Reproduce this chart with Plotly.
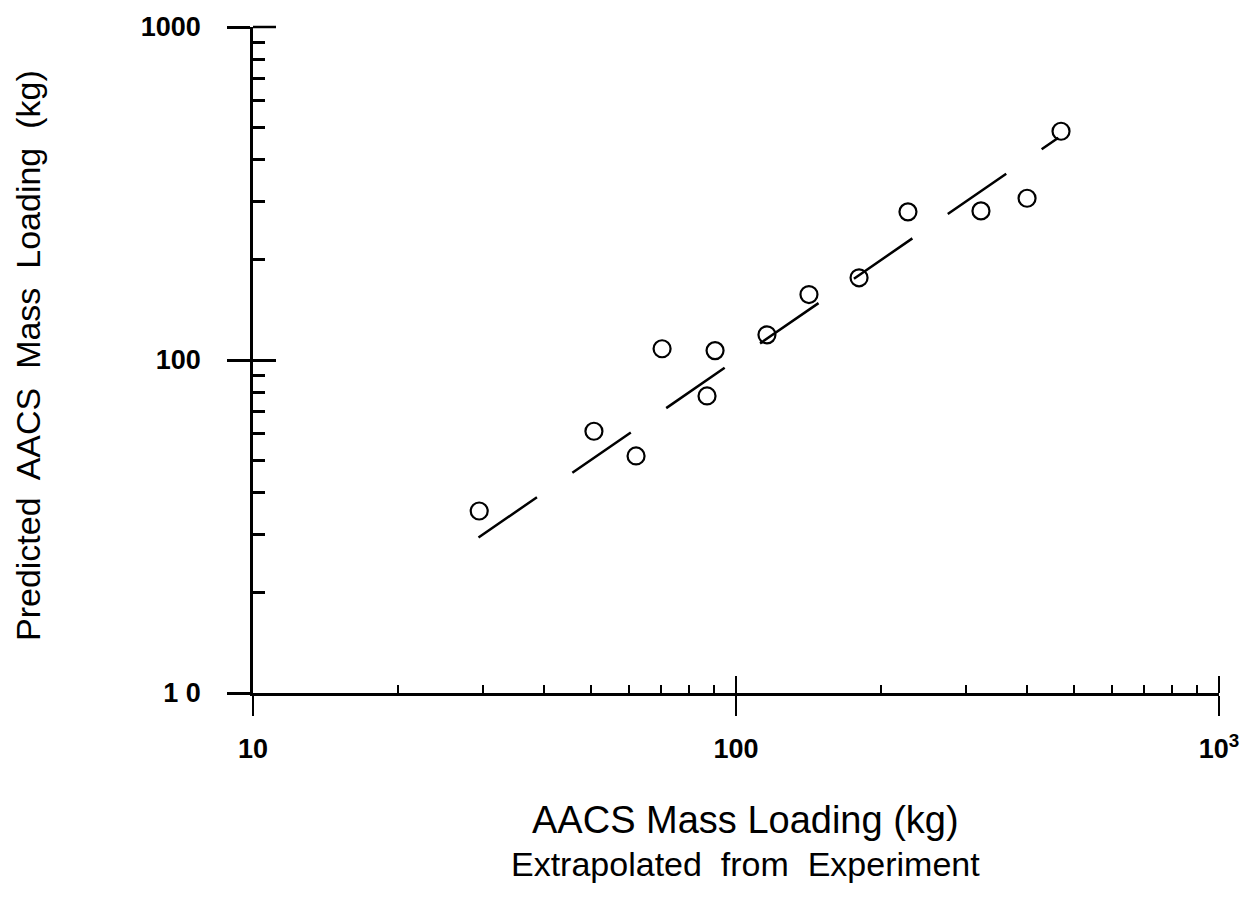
import plotly.graph_objects as go

# Data (log-log)
experiment_kg = [29.4, 50.8, 62.1, 70.3, 87.1, 90.5, 115.9, 141.6, 179.8, 227, 321.5, 400.5, 470.9]
predicted_kg = [35.2, 61.1, 51.5, 108.1, 78.0, 106.7, 119, 157.2, 176.5, 278.5, 280.4, 306, 486.4]
line_x = [29.3, 465]
line_y = [29.3, 465]

x_major = [10, 100, 1000]
x_major_text = ["10", "100", "10<sup>3</sup>"]
y_major = [10, 100, 1000]
y_major_text = ["1 0", "100", "1000"]
x_minor = [20, 30, 40, 50, 60, 70, 80, 90, 200, 300, 400, 500, 600, 700, 800, 900]
y_minor = [20, 30, 40, 50, 60, 70, 80, 90, 200, 300, 400, 500, 600, 700, 800, 900]

FONT = "Liberation Sans, Arial, Helvetica, sans-serif"

fig = go.Figure()
fig.add_trace(go.Scatter(x=line_x, y=line_y, mode="lines",
                         line=dict(color="black", width=2.5, dash="71px,43px"),
                         hoverinfo="skip", showlegend=False))
fig.add_trace(go.Scatter(x=experiment_kg, y=predicted_kg, mode="markers",
                         marker=dict(symbol="circle-open", size=17, color="black",
                                     line=dict(width=2.2, color="black")),
                         showlegend=False))
# invisible trace to activate overlay axes (inside halves of major ticks)
fig.add_trace(go.Scatter(x=[], y=[], xaxis="x2", yaxis="y2", showlegend=False))

fig.update_layout(
    width=1252, height=906,
    margin=dict(l=253, r=33, t=16, b=213),
    paper_bgcolor="white", plot_bgcolor="white",
    font=dict(family=FONT, color="black"),
    xaxis=dict(type="log", range=[1, 3], showgrid=False, zeroline=False,
               showline=True, linecolor="black", linewidth=2.5,
               tickmode="array", tickvals=x_major, ticktext=x_major_text,
               ticks="outside", ticklen=20, tickwidth=2, tickcolor="black",
               ticklabelstandoff=10,
               tickfont=dict(size=27, family=FONT, color="black", weight="bold"),
               minor=dict(tickmode="array", tickvals=x_minor, ticks="inside",
                          ticklen=8, tickwidth=2, tickcolor="black", showgrid=False)),
    yaxis=dict(type="log", range=[1, 3], showgrid=False, zeroline=False,
               showline=True, linecolor="black", linewidth=2.5,
               tickmode="array", tickvals=y_major, ticktext=y_major_text,
               ticks="outside", ticklen=23, tickwidth=2.5, tickcolor="black",
               ticklabelstandoff=21,
               tickfont=dict(size=27, family=FONT, color="black", weight="bold"),
               minor=dict(tickmode="array", tickvals=y_minor, ticks="inside",
                          ticklen=12, tickwidth=2.5, tickcolor="black", showgrid=False)),
    xaxis2=dict(type="log", range=[1, 3], overlaying="x", anchor="y2", side="bottom",
                showgrid=False, zeroline=False, showline=False,
                tickmode="array", tickvals=x_major, ticks="inside", ticklen=17,
                tickwidth=2, tickcolor="black", showticklabels=False),
    yaxis2=dict(type="log", range=[1, 3], overlaying="y", anchor="x2", side="left",
                showgrid=False, zeroline=False, showline=False,
                tickmode="array", tickvals=y_major, ticks="inside", ticklen=23,
                tickwidth=2.5, tickcolor="black", showticklabels=False),
    shapes=[
        # inside halves of the end major ticks (x = 10^3 and y = 1000)
        dict(type="line", xref="paper", yref="paper", x0=1, x1=1,
             ysizemode="pixel", yanchor=0, y0=0, y1=17,
             line=dict(color="black", width=2)),
        dict(type="line", xref="paper", yref="paper", y0=1, y1=1,
             xsizemode="pixel", xanchor=0, x0=0, x1=23,
             line=dict(color="black", width=2.5)),
    ],
    annotations=[
        dict(text="Predicted  AACS  Mass  Loading  (kg)", textangle=-90,
             xref="paper", yref="paper", x=0, y=0.5, xanchor="center", yanchor="middle",
             xshift=-225, yshift=4, showarrow=False,
             font=dict(size=34, family=FONT, color="black")),
        dict(text="AACS Mass Loading (kg)",
             xref="paper", yref="paper", x=0.51, y=0, xanchor="center", yanchor="middle",
             yshift=-127, showarrow=False,
             font=dict(size=38, family=FONT, color="black")),
        dict(text="Extrapolated  from  Experiment",
             xref="paper", yref="paper", x=0.51, y=0, xanchor="center", yanchor="middle",
             yshift=-171, showarrow=False,
             font=dict(size=34, family=FONT, color="black")),
    ],
)

fig.write_html("out.html")
